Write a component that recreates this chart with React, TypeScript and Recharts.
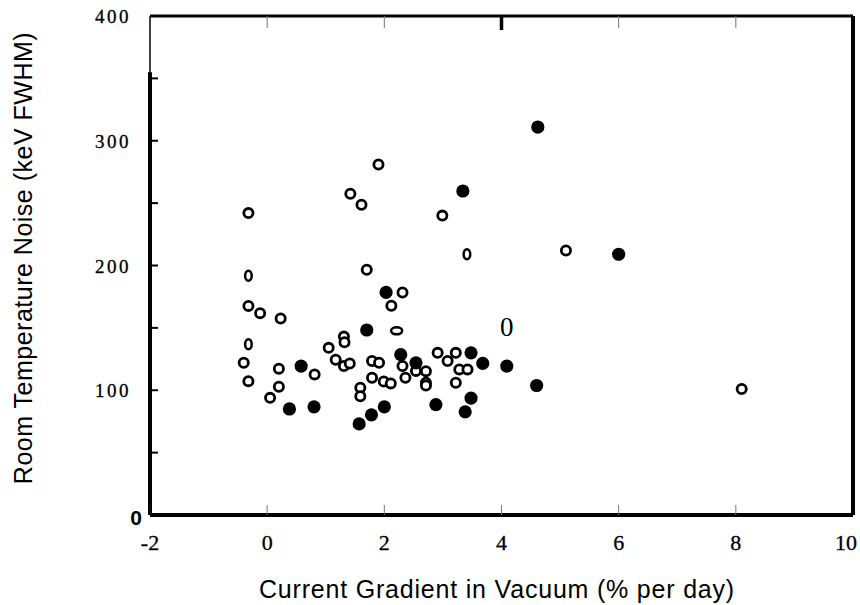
import { ScatterChart, Scatter, XAxis, YAxis, ReferenceLine } from 'recharts';

// open circles
const openPoints = [
  { x: -0.32, y: 242 }, { x: 1.42, y: 257.5 }, { x: 1.61, y: 248.7 }, { x: 1.9, y: 281 },
  { x: 1.7, y: 196.6 }, { x: 2.31, y: 178.4 }, { x: 2.12, y: 167.7 }, { x: 2.99, y: 240 },
  { x: 5.1, y: 212 }, { x: 8.1, y: 101 },
  { x: -0.32, y: 167.6 }, { x: -0.12, y: 161.8 }, { x: 0.23, y: 157.5 }, { x: -0.4, y: 122 },
  { x: -0.32, y: 107.3 }, { x: 0.2, y: 117.3 }, { x: 0.81, y: 112.7 }, { x: 0.2, y: 102.8 },
  { x: 0.05, y: 93.9 },
  { x: 1.05, y: 134 }, { x: 1.31, y: 143 }, { x: 1.32, y: 138.5 }, { x: 1.17, y: 124.5 },
  { x: 1.31, y: 119.4 }, { x: 1.41, y: 121.5 }, { x: 1.79, y: 123.4 }, { x: 1.91, y: 122 },
  { x: 1.79, y: 110 }, { x: 1.99, y: 107 }, { x: 2.11, y: 105.5 }, { x: 1.59, y: 102 },
  { x: 1.59, y: 95.2 },
  { x: 2.31, y: 119.4 }, { x: 2.36, y: 110 }, { x: 2.54, y: 115.5 }, { x: 2.71, y: 115.3 },
  { x: 2.71, y: 106 }, { x: 2.71, y: 103.8 }, { x: 2.91, y: 130 }, { x: 3.08, y: 123.4 },
  { x: 3.22, y: 130 }, { x: 3.28, y: 116.7 }, { x: 3.42, y: 116.7 }, { x: 3.22, y: 106 },
];

// small upright "0"-like open marks
const openNarrow = [
  { x: -0.32, y: 191.8 }, { x: 3.41, y: 209 }, { x: -0.32, y: 136.8 },
];

// flattened open mark
const openFlat = [{ x: 2.21, y: 147.6 }];

// filled circles
const filledPoints = [
  { x: 4.62, y: 311 }, { x: 3.34, y: 259.7 }, { x: 6.0, y: 209 }, { x: 2.03, y: 178.4 },
  { x: 1.7, y: 148.3 }, { x: 0.58, y: 119.4 }, { x: 0.38, y: 85 }, { x: 0.8, y: 86.7 },
  { x: 1.57, y: 73 }, { x: 1.78, y: 80.3 }, { x: 2.0, y: 86.7 }, { x: 2.28, y: 128.5 },
  { x: 2.54, y: 122 }, { x: 2.88, y: 88.5 }, { x: 3.48, y: 130 }, { x: 3.68, y: 121.5 },
  { x: 4.09, y: 119.4 }, { x: 4.6, y: 103.8 }, { x: 3.48, y: 93.7 }, { x: 3.38, y: 82.7 },
];

// stray "0" printed in the plot
const strayGlyph = [{ x: 4.09, y: 150.5 }];

const xTicks = [-2, 0, 2, 4, 6, 8, 10];
const innerXTicks = [0, 2, 4, 6, 8];
const yTicks = [0, 50, 100, 150, 200, 250, 300, 350, 400];

const serif = '"Liberation Serif", "Times New Roman", serif';
const sans = '"Liberation Sans", Arial, sans-serif';

const OpenDot = (p: any) => (
  <circle cx={p.cx} cy={p.cy} r={4.6} fill="#fff" stroke="#000" strokeWidth={2.8} />
);
const NarrowDot = (p: any) => (
  <ellipse cx={p.cx} cy={p.cy} rx={3.3} ry={5} fill="#fff" stroke="#000" strokeWidth={2.5} />
);
const FlatDot = (p: any) => (
  <ellipse cx={p.cx} cy={p.cy} rx={5.5} ry={3.5} fill="#fff" stroke="#000" strokeWidth={2.5} />
);
const FilledDot = (p: any) => <circle cx={p.cx} cy={p.cy} r={6.6} fill="#000" />;
const GlyphDot = (p: any) => (
  <text x={p.cx} y={p.cy + 9} textAnchor="middle" fontFamily={serif} fontSize={27} fill="#000">
    0
  </text>
);
const NoDot = () => <g />;

const XTick = ({ x, y, payload }: any) => {
  const v = payload.value;
  return (
    <text
      x={v === 10 ? x - 6 : x}
      y={y + 35}
      textAnchor="middle"
      fontFamily={serif}
      fontSize={22}
      fill="#000"
      stroke="#000"
      strokeWidth={0.3}
    >
      {v}
    </text>
  );
};

// the 4 tick on the top edge is printed heavier
const TopTick = ({ x, y, payload }: any) =>
  payload.value === 4 ? <line x1={x} x2={x} y1={y - 12} y2={y + 2} stroke="#000" strokeWidth={3.5} /> : null;

const YTick = ({ x, y, payload }: any) => {
  const v = payload.value;
  if (v === 0) {
    return (
      <text x={x + 11} y={y + 10} textAnchor="end" fontFamily={sans} fontWeight="bold" fontSize={21} fill="#000">
        0
      </text>
    );
  }
  if (v % 100 !== 0) return null;
  return (
    <text x={x} y={y + 7} textAnchor="end" fontFamily={serif} fontSize={19} letterSpacing={2.5} fill="#000" stroke="#000" strokeWidth={0.3}>
      {v}
    </text>
  );
};

const YTitle = () => (
  <text
    x={32}
    y={258}
    transform="rotate(-90 32 258)"
    textAnchor="middle"
    fontFamily={sans}
    fontSize={25}
    letterSpacing={0.5}
    fill="#000"
  >
    Room Temperature Noise (keV FWHM)
  </text>
);

const XTitle = () => (
  <text x={497} y={598} textAnchor="middle" fontFamily={sans} fontSize={25} letterSpacing={0.8} fill="#000">
    Current Gradient in Vacuum (% per day)
  </text>
);

export default function App() {
  return (
    <div style={{ position: 'absolute', left: 0, top: 0, background: '#fff' }}>
      <ScatterChart width={860} height={605} margin={{ top: 16, right: 7, left: 0, bottom: 0 }}>
        <XAxis
          xAxisId="b"
          type="number"
          dataKey="x"
          domain={[-2, 10]}
          ticks={xTicks}
          height={90}
          axisLine={{ stroke: '#000', strokeWidth: 4 }}
          tickSize={-10}
          tickMargin={10}
          tickLine={{ stroke: '#777', strokeWidth: 1 }}
          tick={<XTick />}
          label={<XTitle />}
          allowDataOverflow
        />
        <XAxis
          xAxisId="t"
          orientation="top"
          type="number"
          dataKey="x"
          domain={[-2, 10]}
          ticks={innerXTicks}
          height={2}
          mirror
          axisLine={{ stroke: '#000', strokeWidth: 3 }}
          tickSize={12}
          tickMargin={0}
          tickLine={{ stroke: '#777', strokeWidth: 1 }}
          tick={<TopTick />}
          allowDataOverflow
        />
        <YAxis
          yAxisId="l"
          type="number"
          dataKey="y"
          domain={[0, 400]}
          ticks={yTicks}
          width={150}
          axisLine={{ stroke: '#000', strokeWidth: 1.5 }}
          tickSize={-8}
          tickMargin={27}
          tickLine={{ stroke: '#000', strokeWidth: 2 }}
          tick={<YTick />}
          label={<YTitle />}
          allowDataOverflow
        />
        <YAxis
          yAxisId="r"
          orientation="right"
          type="number"
          dataKey="y"
          domain={[0, 400]}
          ticks={yTicks.slice(1, -1)}
          width={2}
          mirror
          axisLine={{ stroke: '#000', strokeWidth: 4 }}
          tickSize={9}
          tickLine={{ stroke: '#000', strokeWidth: 2 }}
          tick={false}
          allowDataOverflow
        />
        <ReferenceLine
          xAxisId="b"
          yAxisId="l"
          segment={[{ x: -2, y: 0 }, { x: -2, y: 355 }]}
          stroke="#000"
          strokeWidth={4}
          ifOverflow="visible"
        />
        <Scatter xAxisId="t" yAxisId="r" data={filledPoints} shape={NoDot} isAnimationActive={false} />
        <Scatter xAxisId="b" yAxisId="l" data={openPoints} shape={OpenDot} isAnimationActive={false} />
        <Scatter xAxisId="b" yAxisId="l" data={openNarrow} shape={NarrowDot} isAnimationActive={false} />
        <Scatter xAxisId="b" yAxisId="l" data={openFlat} shape={FlatDot} isAnimationActive={false} />
        <Scatter xAxisId="b" yAxisId="l" data={filledPoints} shape={FilledDot} isAnimationActive={false} />
        <Scatter xAxisId="b" yAxisId="l" data={strayGlyph} shape={GlyphDot} isAnimationActive={false} />
      </ScatterChart>
    </div>
  );
}
